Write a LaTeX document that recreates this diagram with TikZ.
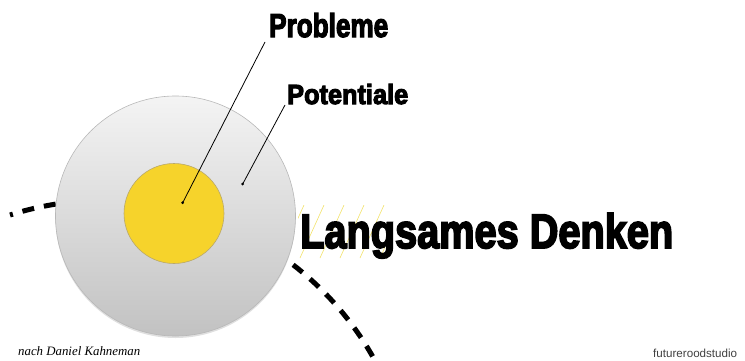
\documentclass[tikz,border=0pt]{standalone}
\usepackage{fontspec}
\usepackage{graphicx}
\usetikzlibrary{shadows}
\newfontfamily\impactfont[FakeBold=4]{Liberation Sans Bold}
\newfontfamily\notefont{Liberation Serif}
\newfontfamily\smallsans{Liberation Sans}
\definecolor{eggtop}{HTML}{F4F4F4}
\definecolor{eggbot}{HTML}{C2C2C2}
\definecolor{eggline}{HTML}{B8B8B8}
\definecolor{yolk}{HTML}{F6D32B}
\definecolor{yolkline}{HTML}{B9A86A}
\definecolor{hatch}{HTML}{F2E26A}
\tikzset{
  white/.style={circle, draw=eggline, line width=0.6pt, top color=eggtop, bottom color=eggbot,
    minimum size=240pt, inner sep=0pt,
    drop shadow={shadow xshift=0pt, shadow yshift=-2pt, opacity=0.25}},
  yolkstyle/.style={circle, draw=yolkline, line width=0.6pt, fill=yolk, minimum size=100pt, inner sep=0pt},
  pin/.style={circle, fill=black, inner sep=0pt, minimum size=3pt},
  pointer/.style={draw=black, line width=0.8pt},
  title/.style={anchor=base west, inner sep=0pt},
  slowarc/.style={line width=5pt, dash pattern=on 12pt off 10pt, dash phase=9pt}
}
\begin{document}
\begin{tikzpicture}[x=1pt,y=1pt]
\useasboundingbox (0,0) rectangle (745,360);
% dashed arc
\draw[slowarc] (10,145) arc[start angle=107.73, end angle=27, radius=309];
% egg white and yolk
\node[white] (eggwhite) at (175.5,144) {};
\node[yolkstyle] (eggyolk) at (174,146.5) {};
% pins
\node[pin] (probdot) at (182.7,157.3) {};
\node[pin] (potdot) at (242.7,176) {};
\coordinate (probend) at (265,318);
\coordinate (potend) at (285,255);
\draw[pointer] (probdot.center) -- (probend);
\draw[pointer] (potdot.center) -- (potend);
% faint hatch lines
\begin{scope}
\clip (298,102) rectangle (385,155);
\foreach \x in {280,300,...,380}
  \draw[hatch, line width=0.6pt] (\x,102) -- (\x+24,155);
\end{scope}
% texts
\node[title] (probleme) at (269,323) {\resizebox{119pt}{24pt}{\impactfont Probleme}};
\node[title] (potentiale) at (287,256) {\resizebox{121pt}{20pt}{\impactfont Potentiale}};
\node[title] (langsam) at (300,112) {\resizebox{373pt}{35pt}{\impactfont Langsames Denken}};
\node[title] (credit) at (18,5) {\resizebox{122pt}{!}{\notefont\itshape nach Daniel Kahneman}};
\node[title, text=black!75] (studio) at (653,3) {\resizebox{84pt}{!}{\smallsans futureroodstudio}};
\end{tikzpicture}
\end{document}
